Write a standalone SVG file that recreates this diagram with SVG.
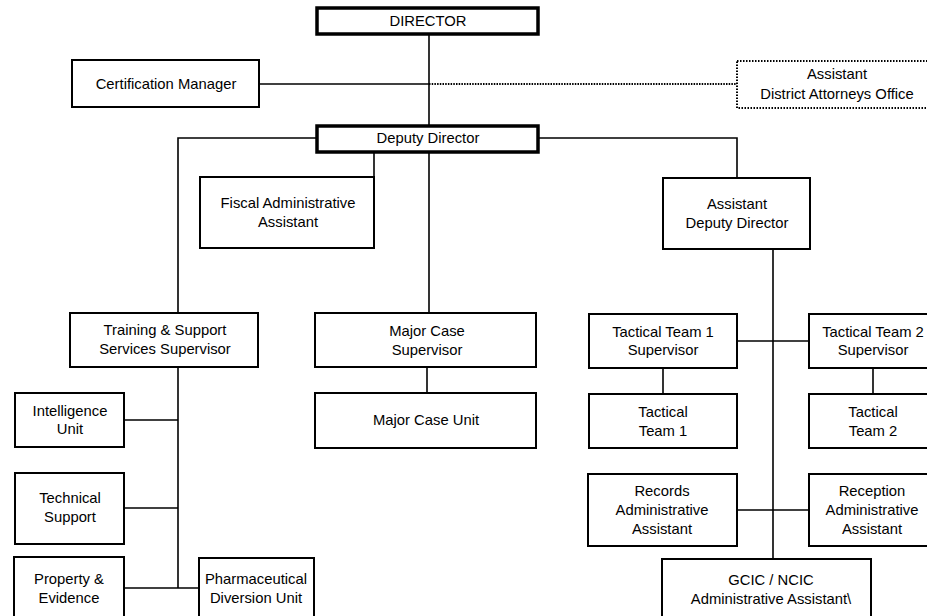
<svg xmlns="http://www.w3.org/2000/svg" width="927" height="616" viewBox="0 0 927 616">
  <style>
    .box { fill: #fff; stroke: #000; stroke-width: 2; }
    .lead { fill: #fff; stroke: #000; stroke-width: 3.5; }
    .dot { fill: #fff; stroke: #000; stroke-width: 2; stroke-dasharray: 1.5 1.5; }
    .wire { fill: none; stroke: #000; stroke-width: 1.6; }
    .wire-dot { fill: none; stroke: #000; stroke-width: 1.8; stroke-dasharray: 1.5 1.2; }
    text { font-family: "Liberation Sans", Arial, sans-serif; font-size: 14.8px; fill: #000; text-anchor: middle; }
  </style>
  <rect width="927" height="616" fill="#fff"/>

  <g id="connectors">
    <!-- Director to Deputy Director -->
    <line class="wire" x1="429" y1="34" x2="429" y2="125"/>
    <!-- Certification Manager branch -->
    <line class="wire" x1="259" y1="84" x2="429" y2="84"/>
    <!-- advisory link to the DA office -->
    <line class="wire-dot" x1="429" y1="84" x2="737" y2="84"/>
    <!-- Deputy Director to Training & Support -->
    <polyline class="wire" points="316,138 178,138 178,313"/>
    <!-- Deputy Director to Fiscal -->
    <line class="wire" x1="374" y1="152" x2="374" y2="178"/>
    <!-- Deputy Director to Major Case Supervisor -->
    <line class="wire" x1="429" y1="152" x2="429" y2="313"/>
    <!-- Deputy Director to Assistant Deputy Director -->
    <polyline class="wire" points="538,138 737,138 737,178"/>
    <!-- Training & Support spine -->
    <line class="wire" x1="178" y1="367" x2="178" y2="588"/>
    <line class="wire" x1="124" y1="420" x2="178" y2="420"/>
    <line class="wire" x1="124" y1="508" x2="178" y2="508"/>
    <line class="wire" x1="124" y1="588" x2="199" y2="588"/>
    <!-- Major Case Supervisor to unit -->
    <line class="wire" x1="427" y1="367" x2="427" y2="393"/>
    <!-- Assistant Deputy Director spine -->
    <line class="wire" x1="773" y1="249" x2="773" y2="559"/>
    <line class="wire" x1="737" y1="341" x2="809" y2="341"/>
    <line class="wire" x1="737" y1="510" x2="809" y2="510"/>
    <!-- Tactical supervisors to teams -->
    <line class="wire" x1="663" y1="368" x2="663" y2="394"/>
    <line class="wire" x1="873" y1="368" x2="873" y2="394"/>
  </g>

  <g id="director">
    <rect class="lead" x="317" y="8" width="221" height="26"/>
    <text x="428" y="26">DIRECTOR</text>
  </g>

  <g id="certification-manager">
    <rect class="box" x="72" y="60" width="187" height="47"/>
    <text x="166" y="89">Certification Manager</text>
  </g>

  <g id="assistant-da-office">
    <rect class="dot" x="737" y="61" width="200" height="47"/>
    <text x="837" y="79">Assistant</text>
    <text x="837" y="99">District Attorneys Office</text>
  </g>

  <g id="deputy-director">
    <rect class="lead" x="317" y="126" width="221" height="26"/>
    <text x="428" y="143">Deputy Director</text>
  </g>

  <g id="fiscal-admin">
    <rect class="box" x="200" y="177" width="174" height="71"/>
    <text x="288" y="208">Fiscal Administrative</text>
    <text x="288" y="227">Assistant</text>
  </g>

  <g id="assistant-deputy-director">
    <rect class="box" x="663" y="178" width="147" height="71"/>
    <text x="737" y="209">Assistant</text>
    <text x="737" y="228">Deputy Director</text>
  </g>

  <g id="training-support">
    <rect class="box" x="70" y="313" width="188" height="54"/>
    <text x="165" y="335">Training &amp; Support</text>
    <text x="165" y="354">Services Supervisor</text>
  </g>

  <g id="major-case-supervisor">
    <rect class="box" x="315" y="313" width="221" height="54"/>
    <text x="427" y="336">Major Case</text>
    <text x="427" y="355">Supervisor</text>
  </g>

  <g id="tactical-1-supervisor">
    <rect class="box" x="589" y="314" width="148" height="54"/>
    <text x="663" y="337">Tactical Team 1</text>
    <text x="663" y="355">Supervisor</text>
  </g>

  <g id="tactical-2-supervisor">
    <rect class="box" x="809" y="314" width="130" height="54"/>
    <text x="873" y="337">Tactical Team 2</text>
    <text x="873" y="355">Supervisor</text>
  </g>

  <g id="intelligence-unit">
    <rect class="box" x="15" y="393" width="109" height="54"/>
    <text x="70" y="416">Intelligence</text>
    <text x="70" y="434">Unit</text>
  </g>

  <g id="major-case-unit">
    <rect class="box" x="315" y="393" width="221" height="55"/>
    <text x="426" y="425">Major Case Unit</text>
  </g>

  <g id="tactical-team-1">
    <rect class="box" x="589" y="394" width="148" height="54"/>
    <text x="663" y="417">Tactical</text>
    <text x="663" y="436">Team 1</text>
  </g>

  <g id="tactical-team-2">
    <rect class="box" x="809" y="394" width="130" height="54"/>
    <text x="873" y="417">Tactical</text>
    <text x="873" y="436">Team 2</text>
  </g>

  <g id="technical-support">
    <rect class="box" x="15" y="473" width="109" height="71"/>
    <text x="70" y="503">Technical</text>
    <text x="70" y="522">Support</text>
  </g>

  <g id="records-admin">
    <rect class="box" x="588" y="474" width="149" height="72"/>
    <text x="662" y="496">Records</text>
    <text x="662" y="515">Administrative</text>
    <text x="662" y="534">Assistant</text>
  </g>

  <g id="reception-admin">
    <rect class="box" x="809" y="474" width="130" height="72"/>
    <text x="872" y="496">Reception</text>
    <text x="872" y="515">Administrative</text>
    <text x="872" y="534">Assistant</text>
  </g>

  <g id="property-evidence">
    <rect class="box" x="14" y="557" width="110" height="70"/>
    <text x="69" y="584">Property &amp;</text>
    <text x="69" y="603">Evidence</text>
  </g>

  <g id="pharmaceutical-diversion">
    <rect class="box" x="199" y="558" width="115" height="70"/>
    <text x="256" y="584">Pharmaceutical</text>
    <text x="256" y="603">Diversion Unit</text>
  </g>

  <g id="gcic-ncic-admin">
    <rect class="box" x="662" y="559" width="209" height="70"/>
    <text x="771" y="585">GCIC / NCIC</text>
    <text x="771" y="604">Administrative Assistant\</text>
  </g>
</svg>
